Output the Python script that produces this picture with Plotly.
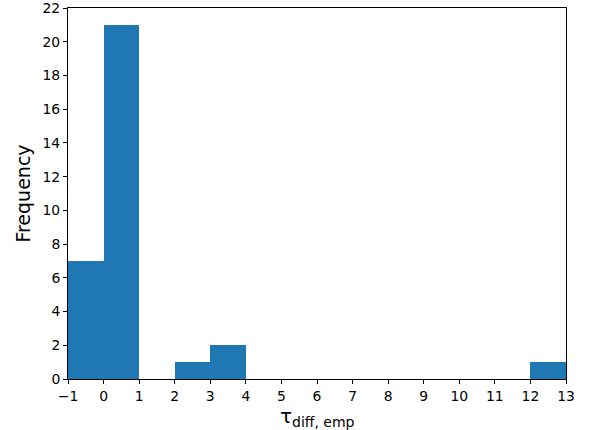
import plotly.graph_objects as go

bin_edges = [-1, 0, 1, 2, 3, 4, 5, 6, 7, 8, 9, 10, 11, 12, 13]
counts = [7, 21, 0, 1, 2, 0, 0, 0, 0, 0, 0, 0, 0, 1]
x_ticks = list(range(-1, 14))
x_tick_text = ["\u22121"] + [str(v) for v in range(0, 14)]
y_ticks = list(range(0, 23, 2))

centers = [(a + b) / 2 for a, b in zip(bin_edges[:-1], bin_edges[1:])]
widths = [b - a for a, b in zip(bin_edges[:-1], bin_edges[1:])]

fig = go.Figure(go.Bar(x=centers, y=counts, width=widths,
                       marker=dict(color="#1f77b4", line=dict(width=0))))

font = "DejaVu Sans"
fig.update_layout(
    width=590, height=430,
    margin=dict(l=68, r=24, t=8, b=51, autoexpand=False),
    paper_bgcolor="white", plot_bgcolor="white",
    bargap=0, showlegend=False,
    font=dict(family=font, size=13.9, color="black"),
    annotations=[dict(text="\u03c4<sub>diff, emp</sub>", xref="paper", yref="paper",
                      x=0.5, y=0, xanchor="center", yanchor="top", yshift=-24,
                      showarrow=False, font=dict(size=20), borderpad=0)],
)
fig.update_xaxes(range=[-1, 13], tickvals=x_ticks, ticktext=x_tick_text,
                 showgrid=False, zeroline=False, showline=True, linecolor="black",
                 linewidth=1, mirror=True, ticks="outside", ticklen=4, tickcolor="black",
                 tickfont=dict(size=13.9), automargin=False, ticklabeloverflow="allow")
fig.update_yaxes(range=[0, 22], tickvals=y_ticks,
                 showgrid=False, zeroline=False, showline=True, linecolor="black",
                 linewidth=1, mirror=True, ticks="outside", ticklen=4, tickcolor="black",
                 tickfont=dict(size=13.9), automargin=False, ticklabeloverflow="allow",
                 title=dict(text="Frequency", font=dict(size=19), standoff=6))

fig.write_html("out.html")
